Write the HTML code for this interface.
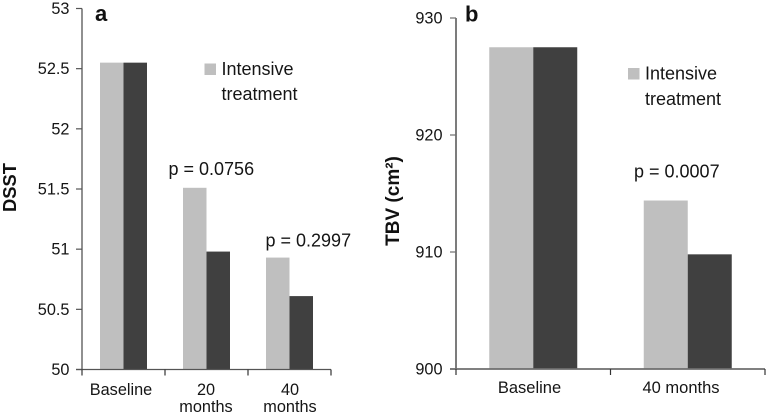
<!DOCTYPE html>
<html>
<head>
<meta charset="utf-8">
<style>
html,body{margin:0;padding:0;background:#fff;}
svg{display:block;}
text{font-family:"Liberation Sans",Arial,sans-serif;fill:#151515;}
</style>
</head>
<body>
<svg id="figure" width="767" height="416" viewBox="0 0 767 416" xmlns="http://www.w3.org/2000/svg">
  <g id="panel-a"></g>
  <g id="panel-b"></g>

  <text x="95" y="21" font-size="22" font-weight="bold" style="fill:#111">a</text>
  <text x="465" y="21.5" font-size="22" font-weight="bold" style="fill:#111">b</text>

  <text transform="translate(16,187.5) rotate(-90)" text-anchor="middle" font-size="18.4" font-weight="bold" style="fill:#111">DSST</text>
  <text transform="translate(399,201) rotate(-90)" text-anchor="middle" font-size="19" font-weight="bold" style="fill:#111">TBV (cm²)</text>

  <rect x="204.5" y="63.5" width="11.5" height="11.5" fill="#bfbfbf"/>
  <text x="221.5" y="75" font-size="18">Intensive</text>
  <text x="221.5" y="100" font-size="18">treatment</text>

  <rect x="628" y="68" width="11.5" height="11.5" fill="#bfbfbf"/>
  <text x="645" y="79.5" font-size="18">Intensive</text>
  <text x="645" y="105" font-size="18">treatment</text>

  <text x="168.5" y="175" font-size="18">p = 0.0756</text>
  <text x="265.5" y="246.5" font-size="18">p = 0.2997</text>
  <text x="634" y="177.5" font-size="18">p = 0.0007</text>

  <g font-size="16.3" text-anchor="middle">
    <text x="121" y="395">Baseline</text>
    <text x="206" y="395">20</text>
    <text x="206" y="412">months</text>
    <text x="290" y="395">40</text>
    <text x="290" y="412">months</text>
  </g>
  <g font-size="16.5" text-anchor="middle">
    <text x="529.5" y="393">Baseline</text>
    <text x="681" y="393">40 months</text>
  </g>
</svg>
<script>
var aCategories = ["Baseline", "20 months", "40 months"];
var aIntensive = [52.55, 51.51, 50.93];
var aStandard = [52.55, 50.98, 50.61];
var aTicks = [50, 50.5, 51, 51.5, 52, 52.5, 53];
var aTickLabels = ["50", "50.5", "51", "51.5", "52", "52.5", "53"];

var bCategories = ["Baseline", "40 months"];
var bIntensive = [927.5, 914.4];
var bStandard = [927.5, 909.8];
var bTicks = [900, 910, 920, 930];
var bTickLabels = ["900", "910", "920", "930"];

var NS = "http://www.w3.org/2000/svg";

function make(parent, tag, attrs) {
  var el = document.createElementNS(NS, tag);
  for (var k in attrs) el.setAttribute(k, attrs[k]);
  parent.appendChild(el);
  return el;
}

function drawPanel(group, cfg) {
  var yScale = function (v) {
    return cfg.y0 - (v - cfg.min) / (cfg.max - cfg.min) * (cfg.y0 - cfg.y1);
  };
  var step = (cfg.x1 - cfg.x0) / cfg.categories.length;

  cfg.categories.forEach(function (cat, i) {
    var cx = cfg.x0 + step * i + step * cfg.centerFrac;
    var light = make(group, "rect", {
      x: cx - cfg.barW,
      y: yScale(cfg.intensive[i]),
      width: cfg.barW,
      height: cfg.y0 - yScale(cfg.intensive[i]),
      fill: "#bfbfbf"
    });
    
    
    var dark = make(group, "rect", {
      x: cx,
      y: yScale(cfg.standard[i]),
      width: cfg.barW,
      height: cfg.y0 - yScale(cfg.standard[i]),
      fill: "#404040"
    });
    
    
  });

  var yAxis = make(group, "line", { x1: cfg.x0, x2: cfg.x0, y1: cfg.y1, y2: cfg.y0, stroke: cfg.axisColor, "stroke-width": cfg.axisW });
  
  
  var xAxis = make(group, "line", { x1: cfg.x0 - cfg.tickLen, x2: cfg.x1, y1: cfg.y0, y2: cfg.y0, stroke: cfg.axisColor, "stroke-width": cfg.axisW });
  
  

  cfg.ticks.forEach(function (t, i) {
    var y = yScale(t);
    var tick = make(group, "line", { x1: cfg.x0 - cfg.tickLen, x2: cfg.x0, y1: y, y2: y, stroke: cfg.axisColor, "stroke-width": 1.2 });
    
    
    var label = make(group, "text", { x: cfg.labelX, y: y + 5.5, "text-anchor": "end", "font-size": 16.3 });
    label.textContent = cfg.tickLabels[i];
    
    
  });

  for (var i = 0; i <= cfg.categories.length; i++) {
    var x = cfg.x0 + step * i;
    var xt = make(group, "line", { x1: x, x2: x, y1: cfg.y0, y2: cfg.y0 + 6, stroke: "#333", "stroke-width": 1.2 });
    
    
  }
}

drawPanel(document.getElementById("panel-a"), {
  categories: aCategories, intensive: aIntensive, standard: aStandard,
  ticks: aTicks, tickLabels: aTickLabels,
  min: 50, max: 53, x0: 82, x1: 331, y0: 369.5, y1: 8.5,
  barW: 23.5, centerFrac: 0.5, tickLen: 6, labelX: 69.5, axisColor: "#555", axisW: 1.3
});

drawPanel(document.getElementById("panel-b"), {
  categories: bCategories, intensive: bIntensive, standard: bStandard,
  ticks: bTicks, tickLabels: bTickLabels,
  min: 900, max: 930, x0: 456, x1: 765, y0: 369, y1: 18,
  barW: 44, centerFrac: 0.5, tickLen: 6, labelX: 442.5, axisColor: "#6e6e6e", axisW: 1.8
});
</script>
</body>
</html>
